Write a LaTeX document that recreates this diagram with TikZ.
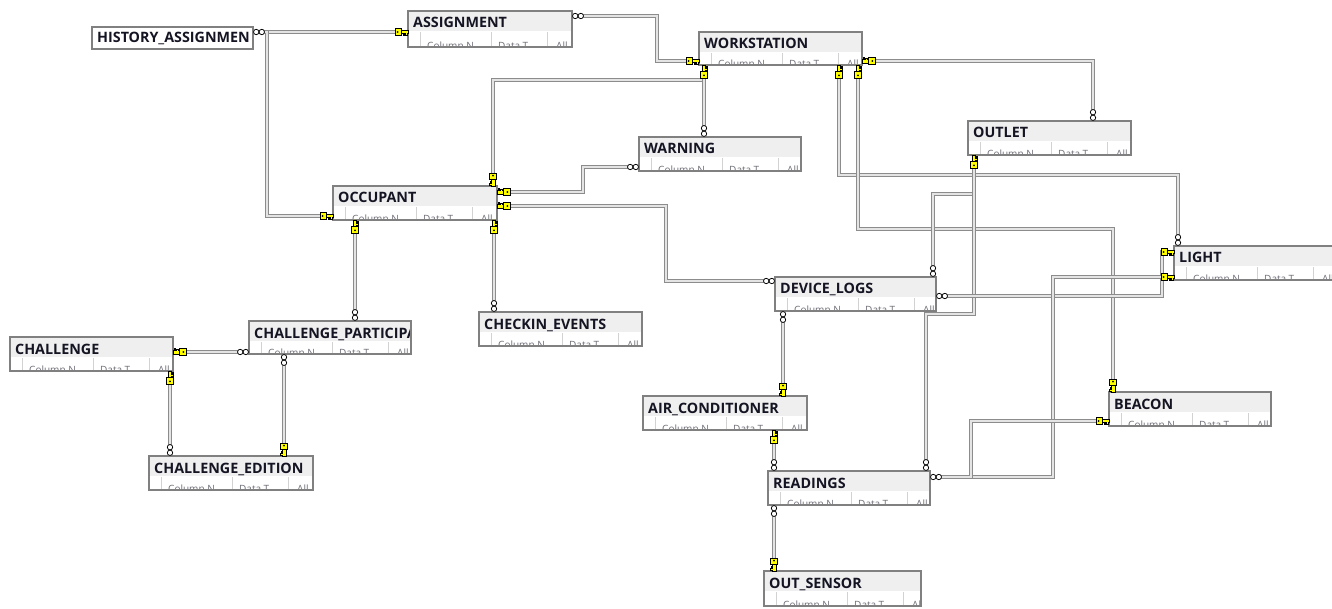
\documentclass[tikz,border=0pt]{standalone}
\usepackage{fontspec}
\setmainfont{Open Sans}
\usetikzlibrary{calc}

\definecolor{frameclr}{RGB}{128,128,128}
\definecolor{bandclr}{RGB}{239,239,239}
\definecolor{divclr}{RGB}{210,210,210}
\definecolor{coltxt}{RGB}{110,110,120}
\definecolor{titletxt}{RGB}{20,20,35}
\definecolor{relclr}{RGB}{140,140,140}
\definecolor{relcore}{RGB}{228,228,228}
\definecolor{keyclr}{RGB}{255,255,0}

\tikzset{
  tblbox/.style={rectangle, draw=none, fill=white, inner sep=0pt, outer sep=0pt},
  tblframe/.style={draw=frameclr, line width=1.1pt},
  titleband/.style={fill=bandclr},
  titletext/.style={font=\bfseries\fontsize{14.3}{14.3}\selectfont, text=titletxt, inner sep=0pt, anchor=base west},
  coltext/.style={font=\fontsize{10}{10}\selectfont, text=coltxt, inner sep=0pt, anchor=north west},
  coldiv/.style={draw=divclr, line width=0.6pt},
  rel/.style={draw=relclr, line width=0.85pt, double=relcore, double distance=1.6pt},
  fk/.pic={
    \draw[black, line width=0.75pt, fill=white] (3.2pt,0pt) circle (2.7pt) (8.8pt,0pt) circle (2.7pt);
  },
  pk/.pic={
    \begin{scope}[draw=black, line width=0.55pt, fill=keyclr]
      \filldraw (0pt,-1.8pt) -- (7pt,-1.8pt) -- (7pt,1.4pt) -- (5pt,1.4pt) -- (5pt,3pt)
        -- (3.6pt,3pt) -- (3.6pt,1.4pt) -- (2.6pt,1.4pt) -- (2.6pt,3.3pt) -- (1pt,3.3pt)
        -- (1pt,1.4pt) -- (0pt,1.4pt) -- cycle;
      \filldraw (6.6pt,-3.4pt) rectangle (13pt,3.4pt);
      \fill[black] (10.4pt,0pt) circle (1pt);
    \end{scope}
  },
}

% a table box: name, left, top, width, height, title
\newcommand\dbtable[6]{%
  \node[tblbox, minimum width=#4pt, minimum height=#5pt, anchor=north west] (#1) at (#2,#3) {};
  \begin{scope}
    \clip (#1.north west) rectangle (#1.south east);
    \fill[titleband] (#1.north west) rectangle ([yshift=-20pt]#1.north east);
    \node[titletext] at ([xshift=5pt,yshift=-17pt]#1.north west) {#6};
    \draw[coldiv] ([xshift=12pt,yshift=-21pt]#1.north west) -- ([xshift=12pt]#1.south west);
    \draw[coldiv] ([xshift=83pt,yshift=-21pt]#1.north west) -- ([xshift=83pt]#1.south west);
    \draw[coldiv] ([xshift=139pt,yshift=-21pt]#1.north west) -- ([xshift=139pt]#1.south west);
    \node[coltext] at ([xshift=19pt,yshift=5pt]#1.south west) {Column N};
    \node[coltext] at ([xshift=90pt,yshift=5pt]#1.south west) {Data T};
    \node[coltext] at ([xshift=148pt,yshift=5pt]#1.south west) {All};
  \end{scope}
  \draw[tblframe] (#1.north west) rectangle (#1.south east);
}

% a collapsed table showing its title only
\newcommand\dbtitle[6]{%
  \node[tblbox, minimum width=#4pt, minimum height=#5pt, anchor=north west] (#1) at (#2,#3) {};
  \begin{scope}
    \clip (#1.north west) rectangle (#1.south east);
    \node[titletext] at ([xshift=5pt,yshift=-16pt]#1.north west) {#6};
  \end{scope}
  \draw[tblframe] (#1.north west) rectangle (#1.south east);
}

\newcommand\mk[3]{\pic[rotate=#2] at (#1) {#3};}

\begin{document}
\begin{tikzpicture}[x=1pt, y=-1pt]
  \clip (0,0) rectangle (1332,609);
  \useasboundingbox (0,0) rectangle (1332,609);
  \fill[white] (0,0) rectangle (1332,609);

  % tables
  \dbtitle{hist}{92}{27}{161}{22}{HISTORY\_ASSIGNMEN}
  \dbtable{asg}{408}{11}{164}{36}{ASSIGNMENT}
  \dbtable{ws}{699}{32}{163}{33}{WORKSTATION}
  \dbtable{warn}{639}{137}{162}{34}{WARNING}
  \dbtable{outlet}{968}{121}{163}{34}{OUTLET}
  \dbtable{occ}{333}{186}{164}{34}{OCCUPANT}
  \dbtable{checkin}{479}{312}{163}{34}{CHECKIN\_EVENTS}
  \dbtable{dlogs}{775}{277}{161}{34}{DEVICE\_LOGS}
  \dbtable{cpart}{249}{321}{162}{33}{CHALLENGE\_PARTICIPA}
  \dbtable{chal}{10}{337}{163}{34}{CHALLENGE}
  \dbtable{ced}{149}{456}{164}{34}{CHALLENGE\_EDITION}
  \dbtable{ac}{643}{396}{164}{34}{AIR\_CONDITIONER}
  \dbtable{read}{768}{471}{162}{34}{READINGS}
  \dbtable{outs}{764}{571}{157}{35}{OUT\_SENSOR}
  \dbtable{beacon}{1109}{392}{162}{34}{BEACON}
  \dbtable{light}{1174}{246}{165}{34}{LIGHT}

  % relationships
  \draw[rel] (hist.east |- 0,32) -- (asg.west |- 0,32);
  \draw[rel] (hist.east |- 0,32) -- (267,32) -- (267,216) -- (occ.west |- 0,216);
  \draw[rel] (asg.east |- 0,16) -- (657,16) -- (657,61) -- (ws.west |- 0,61);
  \draw[rel] (ws.south -| 704,0) -- (704,80) -- (493,80) -- (occ.north -| 493,0);
  \draw[rel] (ws.south -| 704,0) -- (warn.north -| 704,0);
  \draw[rel] (occ.east |- 0,192) -- (583,192) -- (583,167) -- (warn.west |- 0,167);
  \draw[rel] (occ.east |- 0,206) -- (666,206) -- (666,281) -- (dlogs.west |- 0,281);
  \draw[rel] (occ.south -| 494,0) -- (checkin.north -| 494,0);
  \draw[rel] (occ.south -| 355,0) -- (cpart.north -| 355,0);
  \draw[rel] (chal.east |- 0,352) -- (cpart.west |- 0,352);
  \draw[rel] (chal.south -| 170,0) -- (ced.north -| 170,0);
  \draw[rel] (cpart.south -| 284,0) -- (ced.north -| 284,0);
  \draw[rel] (ws.east |- 0,61) -- (1093,61) -- (outlet.north -| 1093,0);
  \draw[rel] (ws.south -| 839,0) -- (839,175) -- (1178,175) -- (light.north -| 1178,0);
  \draw[rel] (ws.south -| 858,0) -- (858,229) -- (1113,229) -- (beacon.north -| 1113,0);
  \draw[rel] (outlet.south -| 974,0) -- (974,194) -- (933,194) -- (dlogs.north -| 933,0);
  \draw[rel] (outlet.south -| 974,0) -- (974,314) -- (926,314) -- (read.north -| 926,0);
  \draw[rel] (light.west |- 0,252) -- (1162,252) -- (1162,296) -- (dlogs.east |- 0,296);
  \draw[rel] (light.west |- 0,277) -- (1053,277) -- (1053,477) -- (read.east |- 0,477);
  \draw[rel] (beacon.west |- 0,421) -- (971,421) -- (971,477) -- (read.east |- 0,477);
  \draw[rel] (dlogs.south -| 783,0) -- (ac.north -| 783,0);
  \draw[rel] (ac.south -| 774,0) -- (read.north -| 774,0);
  \draw[rel] (read.south -| 774,0) -- (outs.north -| 774,0);

  % relationship end markers
  \mk{hist.east |- 0,32}{0}{fk}
  \mk{asg.west |- 0,32}{180}{pk}
  \mk{occ.west |- 0,216}{180}{pk}
  \mk{asg.east |- 0,16}{0}{fk}
  \mk{ws.west |- 0,61}{180}{pk}
  \mk{ws.south -| 704,0}{-90}{pk}
  \mk{occ.north -| 493,0}{90}{pk}
  \mk{warn.north -| 704,0}{90}{fk}
  \mk{occ.east |- 0,192}{0}{pk}
  \mk{warn.west |- 0,167}{180}{fk}
  \mk{occ.east |- 0,206}{0}{pk}
  \mk{dlogs.west |- 0,281}{180}{fk}
  \mk{occ.south -| 494,0}{-90}{pk}
  \mk{checkin.north -| 494,0}{90}{fk}
  \mk{occ.south -| 355,0}{-90}{pk}
  \mk{cpart.north -| 355,0}{90}{fk}
  \mk{chal.east |- 0,352}{0}{pk}
  \mk{cpart.west |- 0,352}{180}{fk}
  \mk{chal.south -| 170,0}{-90}{pk}
  \mk{ced.north -| 170,0}{90}{fk}
  \mk{cpart.south -| 284,0}{-90}{fk}
  \mk{ced.north -| 284,0}{90}{pk}
  \mk{ws.east |- 0,61}{0}{pk}
  \mk{outlet.north -| 1093,0}{90}{fk}
  \mk{ws.south -| 839,0}{-90}{pk}
  \mk{light.north -| 1178,0}{90}{fk}
  \mk{ws.south -| 858,0}{-90}{pk}
  \mk{beacon.north -| 1113,0}{90}{pk}
  \mk{outlet.south -| 974,0}{-90}{pk}
  \mk{dlogs.north -| 933,0}{90}{fk}
  \mk{read.north -| 926,0}{90}{fk}
  \mk{light.west |- 0,252}{180}{pk}
  \mk{dlogs.east |- 0,296}{0}{fk}
  \mk{light.west |- 0,277}{180}{pk}
  \mk{read.east |- 0,477}{0}{fk}
  \mk{beacon.west |- 0,421}{180}{pk}
  \mk{dlogs.south -| 783,0}{-90}{fk}
  \mk{ac.north -| 783,0}{90}{pk}
  \mk{ac.south -| 774,0}{-90}{pk}
  \mk{read.north -| 774,0}{90}{fk}
  \mk{read.south -| 774,0}{-90}{fk}
  \mk{outs.north -| 774,0}{90}{pk}
\end{tikzpicture}
\end{document}
